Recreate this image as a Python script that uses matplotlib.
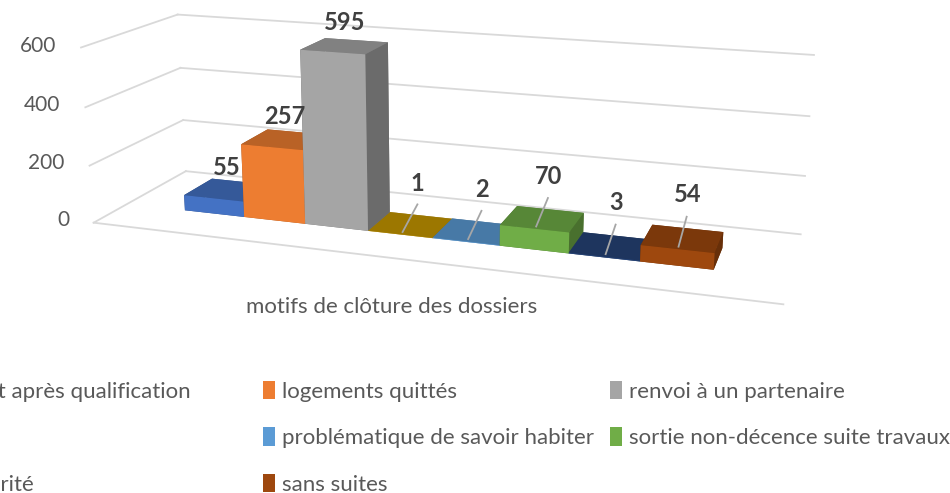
import numpy as np
import matplotlib
matplotlib.use('Agg')
import matplotlib.pyplot as plt
from matplotlib.patches import Patch
from matplotlib.colors import to_rgb

plt.rcParams['font.family'] = ['Lato', 'DejaVu Sans']

# data
series = ["logement décent après qualification", "logements quittés", "renvoi à un partenaire",
          "autre", "problématique de savoir habiter", "sortie non-décence suite travaux",
          "transmis à l'autorité", "sans suites"]
values = [55, 257, 595, 1, 2, 70, 3, 54]
colors = ["#4472C4", "#ED7D31", "#A5A5A5", "#C89800", "#5B9BD5", "#70AD47", "#264478", "#9E480E"]
z_ticks = [0, 200, 400, 600]
category = "motifs de clôture des dossiers"

grid_c = "#D9D9D9"
text_c = "#595959"


def shade(c, f):
    r, g, b = to_rgb(c)
    return (r * f, g * f, b * f)


fig = plt.figure(figsize=(9.5, 4.93), dpi=100)
ax = fig.add_axes([-0.031, -0.245, 0.968, 1.866], projection='3d',
                  proj_type='persp', focal_length=0.275)
ax.view_init(elev=15.5, azim=-71.5)
ax.set_box_aspect((10, 2.8, 2.65), zoom=0.785)
ax.set_axis_off()

n = len(values)
x0, x1 = -1, n + 1
y0, y1 = 0.0, 2.8
ax.set_xlim(x0, x1)
ax.set_ylim(y0, y1)
ax.set_zlim(0, max(z_ticks))

# walls: gridlines on the back wall and the left side wall
for t in z_ticks:
    ax.plot([x0, x1], [y1, y1], [t, t], color=grid_c, lw=1.3)
    ax.plot([x0, x0], [y0, y1], [t, t], color=grid_c, lw=1.3)
    ax.text(x0 - 0.42, y0, t, str(t), ha='right', va='center', color=text_c, fontsize=15)
# floor front edge
ax.plot([x0, x1], [y0, y0], [0, 0], color=grid_c, lw=1.3)

# bars (faces: bottom, top, front, back, left, right)
xs = np.arange(n)
face_cols = []
for c in colors:
    face_cols += [shade(c, 0.7), shade(c, 0.78), to_rgb(c), shade(c, 0.7), shade(c, 0.65), shade(c, 0.65)]
yb, bd = 0.95, 0.9
ax.bar3d(xs, np.full(n, yb), np.zeros(n), 1.0, bd, values,
         color=face_cols, shade=False, edgecolor='none')

# data labels
yc = yb + bd / 2
for i, v in enumerate(values):
    xc = i + 0.5
    if i < 3:
        ax.text(xc, yc, v + 40, str(v), ha='center', va='bottom', fontsize=17,
                fontweight='bold', color='#404040', zorder=20)
    else:
        ax.plot([xc, xc], [yb + 0.1, yc + 0.3], [v, v + 50], color='#A6A6A6', lw=1.3, zorder=19)
        ax.text(xc, yc + 0.3, v + 85, str(v), ha='center', va='bottom', fontsize=17,
                fontweight='bold', color='#404040', zorder=20)

fig.text(392 / 950, 1 - 307 / 493, category, ha='center', va='center', fontsize=16, color=text_c)

# legend, one block per column
order = [[0, 3, 6], [1, 4, 7], [2, 5]]
lefts = [-178, 263, 610]
for col, left in zip(order, lefts):
    handles = [Patch(facecolor=colors[k], label=series[k]) for k in col]
    fig.legend(handles=handles, loc='upper left', bbox_to_anchor=(left / 950, 1 - 381 / 493),
               frameon=False, fontsize=16, labelcolor=text_c, handlelength=0.55,
               handleheight=0.9, handletextpad=0.3, labelspacing=1.15, borderpad=0, borderaxespad=0)

fig.savefig('out.png', dpi=100)
